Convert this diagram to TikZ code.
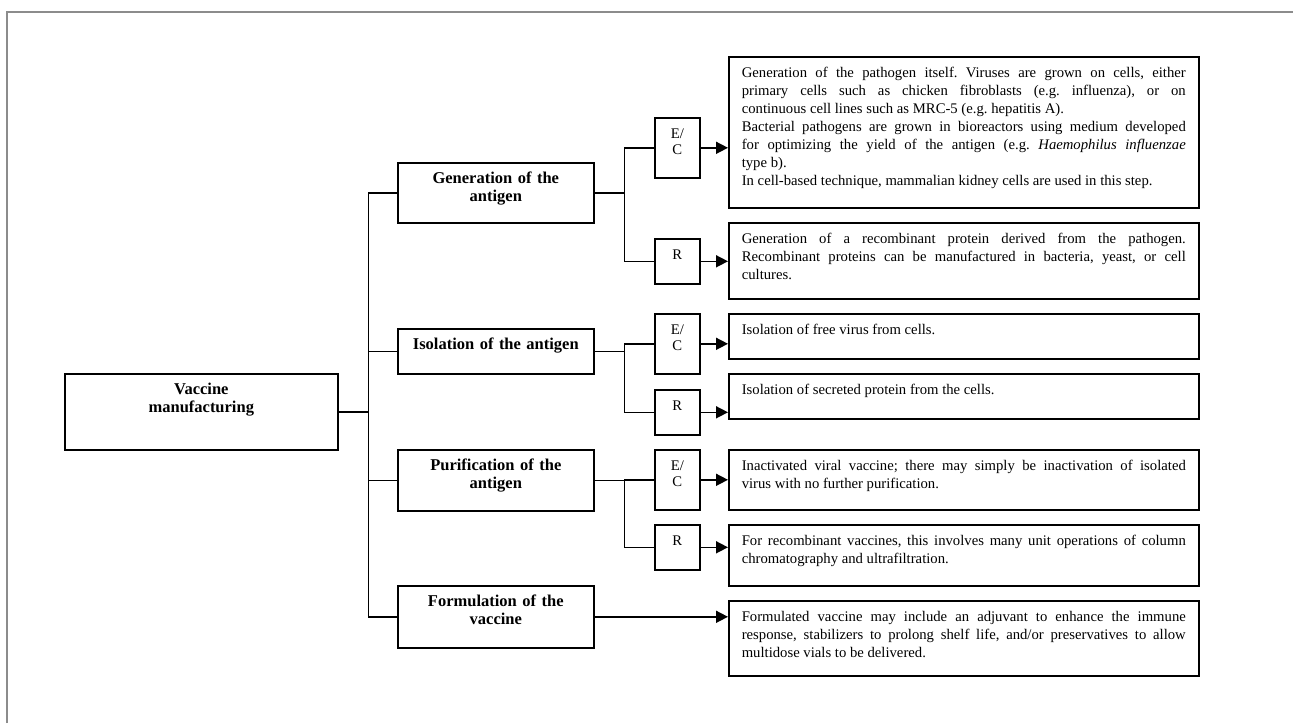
\documentclass[tikz,border=0pt]{standalone}
\usepackage{fontspec}
\setmainfont{Liberation Serif}
\usetikzlibrary{arrows.meta}
\frenchspacing

\begin{document}
\begin{tikzpicture}[x=1pt,y=-1pt]
	\useasboundingbox (0,0) rectangle (1293,723);
	\draw[line width=2pt, black!45] (7,723) -- (7,12) -- (1293,12);

	\begin{scope}[every node/.style={draw,line width=1.6pt,anchor=north west,inner ysep=0pt,text height=21pt}]
	% steps
	\node[font=\fontsize{16.5}{18}\selectfont\bfseries, text width=257pt, inner xsep=8pt, align=center, text depth=55pt] (VM) at (64,373) {Vaccine\\manufacturing};
	\node[font=\fontsize{16.5}{18}\selectfont\bfseries, text width=180pt, inner xsep=8pt, align=center, text depth=39pt] (GA) at (397,162) {Generation of the\\antigen};
	\node[font=\fontsize{16.5}{18}\selectfont\bfseries, text width=180pt, inner xsep=8pt, align=center, text depth=24pt] (IA) at (397,328) {Isolation of the antigen};
	\node[font=\fontsize{16.5}{18}\selectfont\bfseries, text width=180pt, inner xsep=8pt, align=center, text depth=40pt] (PA) at (397,449) {Purification of the\\antigen};
	\node[font=\fontsize{16.5}{18}\selectfont\bfseries, text width=180pt, inner xsep=8pt, align=center, text depth=41pt] (FV) at (397,585) {Formulation of the\\vaccine};

	% E/C and R
	\node[font=\fontsize{14.7}{16}\selectfont, text width=37pt, inner xsep=4pt, align=center, text depth=39pt] (EC1) at (654,117) {E/\\C};
	\node[font=\fontsize{14.7}{16}\selectfont, text width=37pt, inner xsep=4pt, align=center, text depth=24pt] (R1) at (654,238) {R};
	\node[font=\fontsize{14.7}{16}\selectfont, text width=37pt, inner xsep=4pt, align=center, text depth=39pt] (EC2) at (654,313) {E/\\C};
	\node[font=\fontsize{14.7}{16}\selectfont, text width=37pt, inner xsep=4pt, align=center, text depth=24pt] (R2) at (654,389) {R};
	\node[font=\fontsize{14.7}{16}\selectfont, text width=37pt, inner xsep=4pt, align=center, text depth=39pt] (EC3) at (654,449) {E/\\C};
	\node[font=\fontsize{14.7}{16}\selectfont, text width=37pt, inner xsep=4pt, align=center, text depth=24pt] (R3) at (654,524) {R};

	% descriptions
	\node[font=\fontsize{14.7}{18}\selectfont, text width=444pt, inner xsep=13pt, align=justify, text depth=130pt] (D1) at (728,56) {Generation of the pathogen itself. Viruses are grown on cells, either\linebreak primary cells such as chicken fibroblasts (e.g. influenza), or on\linebreak continuous cell lines such as MRC-5 (e.g. hepatitis A).\par Bacterial pathogens are grown in bioreactors using medium developed\linebreak for optimizing the yield of the antigen (e.g. \textit{Haemophilus influenzae}\linebreak type b).\par In cell-based technique, mammalian kidney cells are used in this step.};
	\node[font=\fontsize{14.7}{18}\selectfont, text width=444pt, inner xsep=13pt, align=justify, text depth=55pt] (D2) at (728,222) {Generation of a recombinant protein derived from the pathogen.\linebreak Recombinant proteins can be manufactured in bacteria, yeast, or cell\linebreak cultures.};
	\node[font=\fontsize{14.7}{18}\selectfont, text width=444pt, inner xsep=13pt, align=justify, text depth=24pt] (D3) at (728,313) {Isolation of free virus from cells.};
	\node[font=\fontsize{14.7}{18}\selectfont, text width=444pt, inner xsep=13pt, align=justify, text depth=24pt] (D4) at (728,373) {Isolation of secreted protein from the cells.};
	\node[font=\fontsize{14.7}{18}\selectfont, text width=444pt, inner xsep=13pt, align=justify, text depth=39pt] (D5) at (728,449) {Inactivated viral vaccine; there may simply be inactivation of isolated\linebreak virus with no further purification.};
	\node[font=\fontsize{14.7}{18}\selectfont, text width=444pt, inner xsep=13pt, align=justify, text depth=40pt] (D6) at (728,524) {For recombinant vaccines, this involves many unit operations of column\linebreak chromatography and ultrafiltration.};
	\node[font=\fontsize{14.7}{18}\selectfont, text width=444pt, inner xsep=13pt, align=justify, text depth=54pt] (D7) at (728,600) {Formulated vaccine may include an adjuvant to enhance the immune\linebreak response, stabilizers to prolong shelf life, and/or preservatives to allow\linebreak multidose vials to be delivered.};
	\end{scope}

	\begin{scope}[line width=1.6pt, >={Triangle[length=12pt,width=12pt]}]
	\draw (VM.east) -- ++(30,0) coordinate (T);
	\draw (GA.west) -| (T);
	\draw (IA.west) -| (T);
	\draw (PA.west) -| (T);
	\draw (FV.west) -| (T);

	\draw (GA.east) -- ++(30,0) coordinate (B1);
	\draw (EC1.west) -| (B1);
	\draw (R1.west) -| (B1);
	\draw (IA.east) -- ++(30,0) coordinate (B2);
	\draw (EC2.west) -| (B2);
	\draw (R2.west) -| (B2);
	\draw (PA.east) -- ++(30,0) coordinate (B3);
	\draw (EC3.west) -| (B3);
	\draw (R3.west) -| (B3);

	\path [->] (EC1) edge (EC1 -| D1.west);
	\path [->] (R1) edge (R1 -| D2.west);
	\path [->] (EC2) edge (EC2 -| D3.west);
	\path [->] (R2) edge (R2 -| D4.west);
	\path [->] (EC3) edge (EC3 -| D5.west);
	\path [->] (R3) edge (R3 -| D6.west);
	\path [->] (FV) edge (FV -| D7.west);
	\end{scope}
\end{tikzpicture}
\end{document}
